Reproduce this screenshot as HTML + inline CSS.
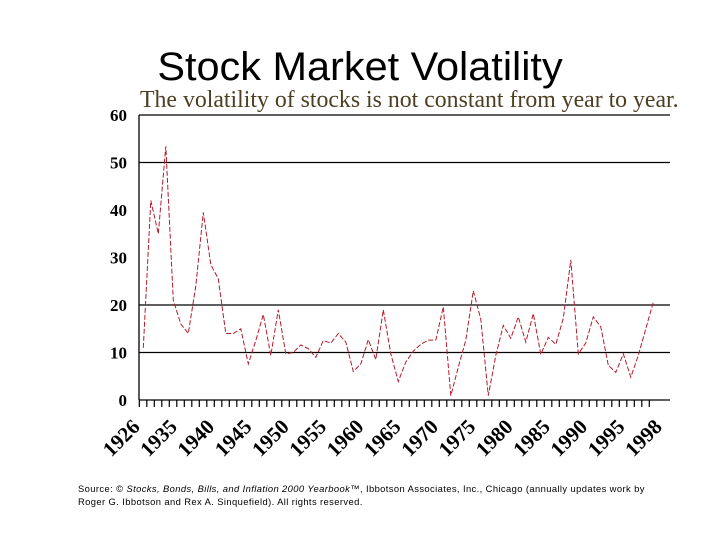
<!DOCTYPE html>
<html><head><meta charset="utf-8"><style>
body{margin:0;background:#fff;width:720px;height:540px;overflow:hidden;position:relative;font-family:"Liberation Sans",sans-serif}
#title{position:absolute;left:0;width:720px;top:46px;text-align:center;font-size:37px;color:#000;transform:scale(1.12,1.08);transform-origin:360px 20px}
#src{position:absolute;left:78px;top:483px;font-size:9.4px;line-height:12.5px;color:#000;width:596px;letter-spacing:0.4px}
</style></head><body>
<div id="title">Stock Market Volatility</div>
<svg id="chart" width="720" height="540" style="position:absolute;left:0;top:0">
<text x="140" y="107" font-family="Liberation Serif, serif" font-size="23.8" fill="#4d3f22">The volatility of stocks is not constant from year to year.</text>
<g id="grid"></g><g id="axes"></g><g id="series"></g><g id="xlabels"></g>
</svg>
<div id="src">Source: © <i>Stocks, Bonds, Bills, and Inflation 2000 Yearbook™</i>, Ibbotson Associates, Inc., Chicago (annually updates work by Roger G. Ibbotson and Rex A. Sinquefield). All rights reserved.</div>
<script>
const volatility=[11,42,35,53.4,21,16,14,24,39.5,28.5,25.5,14,14,15,7.6,12.5,18,9.4,19,9.7,10,11.6,10.8,9,12.5,12,14,12.2,6,7.6,12.7,8.5,19,9.7,3.9,8,10.3,11.7,12.6,12.6,19.6,0.9,6.9,12.6,23,17,0.9,9.4,15.7,13,17.5,12.2,18.2,9.6,13.2,11.7,17.2,29.5,9.7,12,17.5,15.4,7.3,5.8,9.7,4.8,9.4,15,20.6];
const yTicks=[0,10,20,30,40,50,60];
const gridValues=[10,20,50,60];
const xTickLabels=["1926","1935","1940","1945","1950","1955","1960","1965","1970","1975","1980","1985","1990","1995","1998"];
const NS="http://www.w3.org/2000/svg";
const x0=139,x1=670,yb=400,yt=115,firstX=143.3,step=7.5;
const ys=v=>yb-(v/60)*(yb-yt);
const xs=i=>firstX+i*step;
function mk(t,a,p){const e=document.createElementNS(NS,t);for(const k in a)e.setAttribute(k,a[k]);p.appendChild(e);return e;}
const grid=document.getElementById('grid'),axes=document.getElementById('axes'),series=document.getElementById('series'),xl=document.getElementById('xlabels');
gridValues.forEach(v=>{const l=mk('line',{x1:x0,x2:x1,y1:ys(v),y2:ys(v),stroke:'#000','stroke-width':1.3},grid);

});
yTicks.forEach(v=>{const t=mk('text',{x:127,y:ys(v)+6,'text-anchor':'end','font-family':'Liberation Serif, serif','font-weight':'bold','font-size':17},axes);t.textContent=v;

});
const ya=mk('line',{x1:x0,x2:x0,y1:yt,y2:yb,stroke:'#000','stroke-width':1.3},axes);


const xa=mk('line',{x1:x0,x2:x1,y1:yb,y2:yb,stroke:'#000','stroke-width':1.3},axes);


volatility.forEach((v,i)=>{const tk=mk('line',{x1:xs(i)-4,x2:xs(i)-4,y1:yb,y2:yb+7,stroke:'#000','stroke-width':1.2},axes);

});
const pts=volatility.map((v,i)=>xs(i).toFixed(1)+','+ys(v).toFixed(1)).join(' ');
const pl=mk('polyline',{points:pts,fill:'none',stroke:'#b51c2a','stroke-width':1,'stroke-dasharray':'5,2'},series);


xTickLabels.forEach((s,i)=>{const ax=141+i*37.3,ay=428;
const t=mk('text',{x:ax,y:ay,'text-anchor':'end','font-family':'Liberation Serif, serif','font-weight':'bold','font-size':21,transform:`rotate(-45 ${ax} ${ay})`},xl);t.textContent=s;

});
</script>
</body></html>
